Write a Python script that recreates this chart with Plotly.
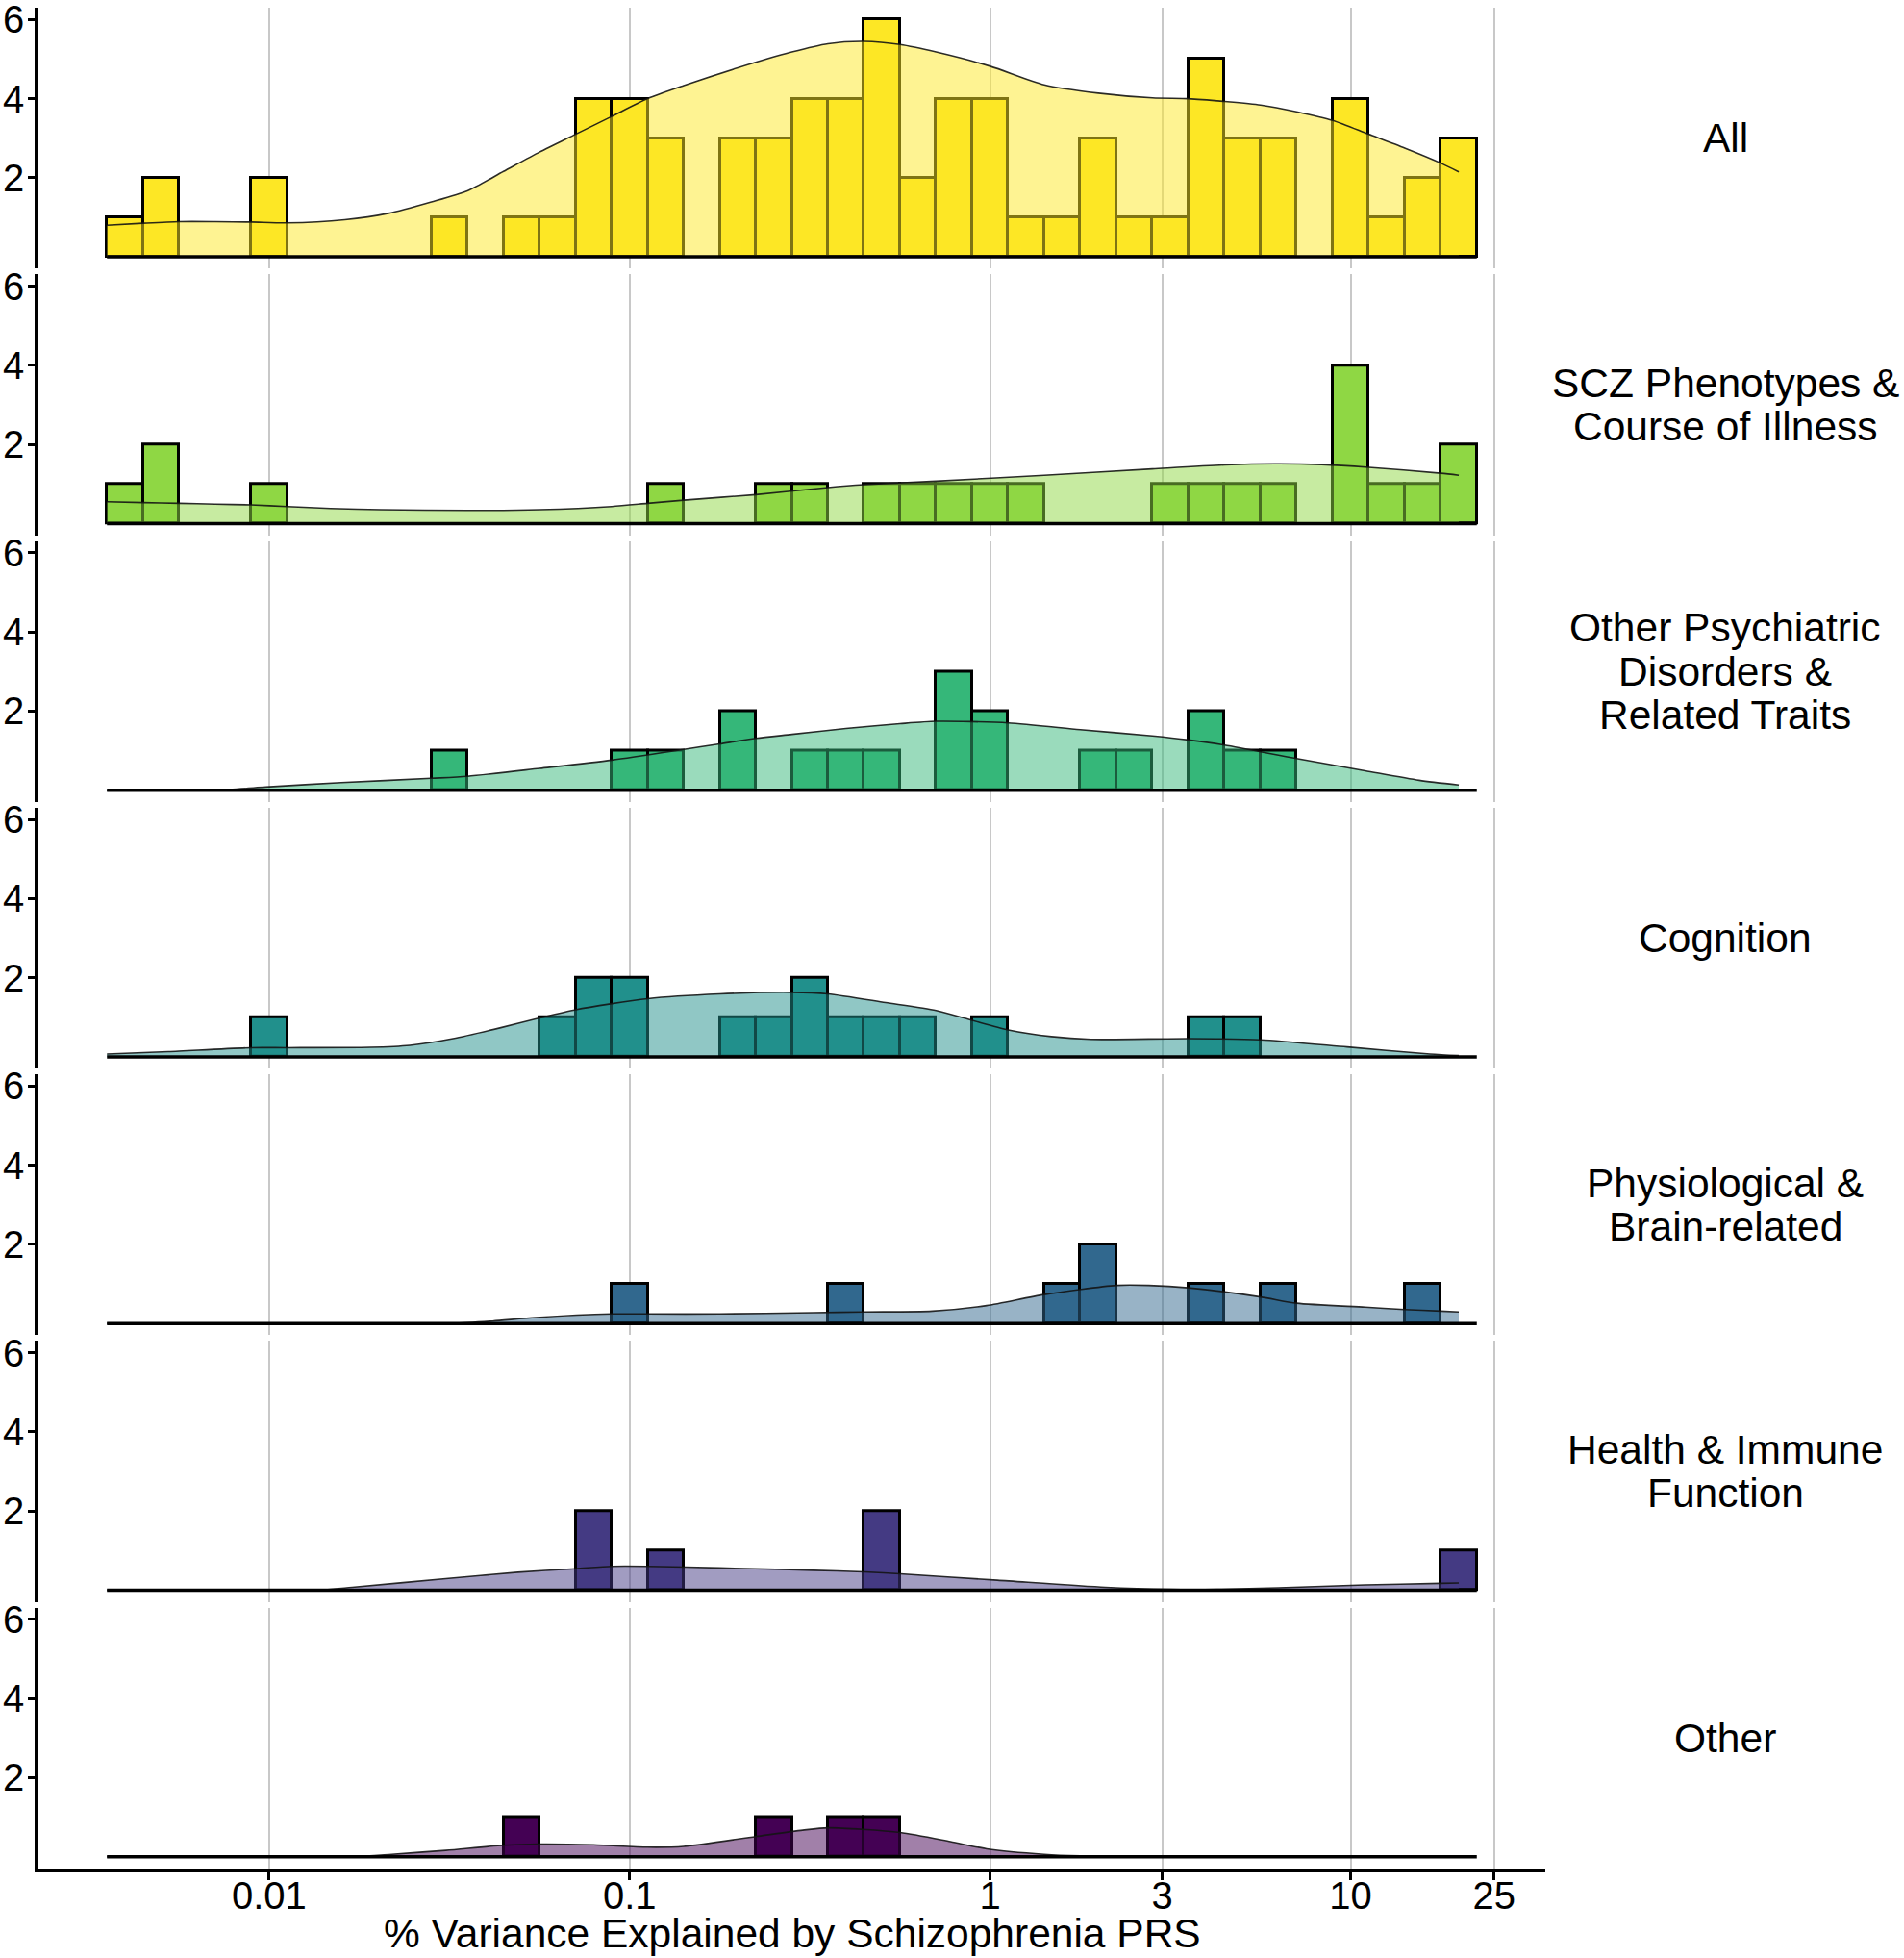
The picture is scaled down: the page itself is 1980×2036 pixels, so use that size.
import numpy as np
import plotly.graph_objects as go
from plotly.subplots import make_subplots

# ---------------- data ----------------
# histogram bins: centres in log10(% variance explained), bin width 0.1 (log10 units)
bin_centers = [-2.4, -2.3, -2.2, -2.1, -2.0, -1.9, -1.8, -1.7, -1.6, -1.5,
               -1.4, -1.3, -1.2, -1.1, -1.0, -0.9, -0.8, -0.7, -0.6, -0.5,
               -0.4, -0.3, -0.2, -0.1, 0.0, 0.1, 0.2, 0.3, 0.4, 0.5,
               0.6, 0.7, 0.8, 0.9, 1.0, 1.1, 1.2, 1.3]
bin_width = 0.1

categories = ["All", "SCZ Phenotypes &<br>Course of Illness",
              "Other Psychiatric<br>Disorders &<br>Related Traits", "Cognition",
              "Physiological &<br>Brain-related", "Health & Immune<br>Function", "Other"]

counts_all    = [1, 2, 0, 0, 2, 0, 0, 0, 0, 1, 0, 1, 1, 4, 4, 3, 0, 3, 3, 4, 4, 6, 2, 4, 4, 1, 1, 3, 1, 1, 5, 3, 3, 0, 4, 1, 2, 3]
counts_scz    = [1, 2, 0, 0, 1, 0, 0, 0, 0, 0, 0, 0, 0, 0, 0, 1, 0, 0, 1, 1, 0, 1, 1, 1, 1, 1, 0, 0, 0, 1, 1, 1, 1, 0, 4, 1, 1, 2]
counts_psych  = [0, 0, 0, 0, 0, 0, 0, 0, 0, 1, 0, 0, 0, 0, 1, 1, 0, 2, 0, 1, 1, 1, 0, 3, 2, 0, 0, 1, 1, 0, 2, 1, 1, 0, 0, 0, 0, 0]
counts_cog    = [0, 0, 0, 0, 1, 0, 0, 0, 0, 0, 0, 0, 1, 2, 2, 0, 0, 1, 1, 2, 1, 1, 1, 0, 1, 0, 0, 0, 0, 0, 1, 1, 0, 0, 0, 0, 0, 0]
counts_phys   = [0, 0, 0, 0, 0, 0, 0, 0, 0, 0, 0, 0, 0, 0, 1, 0, 0, 0, 0, 0, 1, 0, 0, 0, 0, 0, 1, 2, 0, 0, 1, 0, 1, 0, 0, 0, 1, 0]
counts_health = [0, 0, 0, 0, 0, 0, 0, 0, 0, 0, 0, 0, 0, 2, 0, 1, 0, 0, 0, 0, 0, 2, 0, 0, 0, 0, 0, 0, 0, 0, 0, 0, 0, 0, 0, 0, 0, 1]
counts_other  = [0, 0, 0, 0, 0, 0, 0, 0, 0, 0, 0, 1, 0, 0, 0, 0, 0, 0, 1, 0, 1, 1, 0, 0, 0, 0, 0, 0, 0, 0, 0, 0, 0, 0, 0, 0, 0, 0]

# density curves (count scale); x in log10 units
dens_all_x = [-2.45, -2.35, -2.25, -2.15, -2.05, -1.95, -1.79, -1.67, -1.55, -1.45, -1.35, -1.25, -1.15, -1.05,
              -0.95, -0.85, -0.70, -0.55, -0.45, -0.35, -0.25, -0.15, 0.0, 0.15, 0.30, 0.45, 0.55, 0.65, 0.75,
              0.85, 0.95, 1.05, 1.15, 1.25, 1.30]
dens_all_y = [0.80, 0.85, 0.89, 0.89, 0.88, 0.86, 0.94, 1.10, 1.39, 1.67, 2.16, 2.65, 3.10, 3.55,
              4.00, 4.33, 4.78, 5.18, 5.39, 5.45, 5.37, 5.18, 4.82, 4.35, 4.14, 4.02, 4.00, 3.93, 3.84,
              3.67, 3.45, 3.10, 2.75, 2.37, 2.15]

dens_scz_x = [-2.45, -2.35, -2.25, -2.15, -2.05, -1.95, -1.83, -1.69, -1.45, -1.25, -1.05, -0.95, -0.85, -0.65,
              -0.45, -0.35, -0.15, 0.15, 0.45, 0.65, 0.79, 0.92, 1.05, 1.25, 1.30]
dens_scz_y = [0.55, 0.53, 0.51, 0.49, 0.47, 0.43, 0.38, 0.35, 0.33, 0.35, 0.43, 0.51, 0.59, 0.73,
              0.91, 0.98, 1.07, 1.22, 1.38, 1.48, 1.51, 1.49, 1.42, 1.27, 1.22]

dens_psych_x = [-2.45, -2.11, -2.01, -1.80, -1.55, -1.45, -1.25, -1.05, -0.85, -0.75, -0.65, -0.55, -0.40,
                -0.25, -0.15, 0.05, 0.25, 0.45, 0.55, 0.65, 0.85, 1.04, 1.19, 1.30]
dens_psych_y = [0.0, 0.02, 0.08, 0.19, 0.30, 0.35, 0.55, 0.76, 1.03, 1.17, 1.31, 1.41, 1.56,
                1.68, 1.74, 1.70, 1.53, 1.37, 1.27, 1.14, 0.80, 0.49, 0.25, 0.13]

dens_cog_x = [-2.45, -2.28, -2.05, -1.95, -1.72, -1.61, -1.49, -1.36, -1.25, -1.15, -0.95, -0.75, -0.55,
              -0.45, -0.29, -0.15, -0.05, 0.05, 0.17, 0.28, 0.55, 0.75, 0.99, 1.22, 1.30]
dens_cog_y = [0.07, 0.13, 0.23, 0.23, 0.24, 0.29, 0.46, 0.73, 0.98, 1.19, 1.47, 1.59, 1.63,
              1.59, 1.37, 1.17, 0.92, 0.68, 0.51, 0.44, 0.46, 0.43, 0.25, 0.07, 0.03]

dens_phys_x = [-2.45, -1.90, -1.49, -1.38, -1.26, -1.05, -0.95, -0.75, -0.49, -0.35, -0.16, -0.01, 0.15,
               0.35, 0.44, 0.55, 0.75, 0.85, 1.04, 1.15, 1.25, 1.30]
dens_phys_y = [0.0, 0.0, 0.0, 0.06, 0.15, 0.24, 0.24, 0.24, 0.27, 0.29, 0.31, 0.45, 0.73,
               0.96, 0.96, 0.90, 0.67, 0.51, 0.41, 0.35, 0.31, 0.29]

dens_health_x = [-2.45, -1.87, -1.77, -1.51, -1.31, -1.15, -1.05, -0.95, -0.75, -0.49, -0.35, -0.25,
                 0.02, 0.32, 0.50, 0.63, 0.80, 1.04, 1.25, 1.30]
dens_health_y = [0.0, 0.0, 0.07, 0.29, 0.45, 0.54, 0.60, 0.60, 0.56, 0.50, 0.46, 0.41,
                 0.25, 0.07, 0.02, 0.02, 0.06, 0.13, 0.17, 0.18]

dens_other_x = [-2.45, -1.77, -1.66, -1.51, -1.35, -1.25, -1.10, -0.95, -0.85, -0.65, -0.52, -0.45,
                -0.25, -0.11, -0.01, 0.15, 0.25, 0.40, 1.30]
dens_other_y = [0.0, 0.0, 0.06, 0.16, 0.29, 0.32, 0.30, 0.24, 0.26, 0.51, 0.67, 0.73,
                0.61, 0.38, 0.20, 0.06, 0.02, 0.0, 0.0]

colors = ["#FDE725", "#8FD744", "#35B779", "#21908C", "#31688E", "#443A83", "#440154"]

x_tick_values = [0.01, 0.1, 1, 3, 10, 25]
x_tick_labels = ["0.01", "0.1", "1", "3", "10", "25"]
y_tick_values = [2, 4, 6]

x_title = "% Variance Explained by Schizophrenia PRS"

# ---------------- figure ----------------
counts_list = [counts_all, counts_scz, counts_psych, counts_cog, counts_phys, counts_health, counts_other]
dens_list = [(dens_all_x, dens_all_y), (dens_scz_x, dens_scz_y), (dens_psych_x, dens_psych_y),
             (dens_cog_x, dens_cog_y), (dens_phys_x, dens_phys_y), (dens_health_x, dens_health_y),
             (dens_other_x, dens_other_y)]

FONT = "Liberation Sans, Arial, sans-serif"
W, H = 1980, 2036
ML, MR, MT, MB = 40, 373, 8, 93
plot_h = H - MT - MB

n = len(categories)
fig = make_subplots(rows=n, cols=1, shared_xaxes=True, vertical_spacing=5.8 / plot_h)


def rgba(hexc, a):
    hexc = hexc.lstrip("#")
    r, g, b = int(hexc[0:2], 16), int(hexc[2:4], 16), int(hexc[4:6], 16)
    return f"rgba({r},{g},{b},{a})"


x_lo = bin_centers[0] - bin_width / 2
x_hi = bin_centers[-1] + bin_width / 2
span = x_hi - x_lo
x_range = [x_lo - 0.05 * span, x_hi + 0.05 * span]

for k in range(n):
    row = k + 1
    dx, dy = dens_list[k]
    fig.add_trace(go.Scatter(x=dx, y=dy, mode="lines",
                             line=dict(color="rgba(20,20,20,0.9)", width=1.6, shape="spline", smoothing=0.7),
                             fill="tozeroy", fillcolor=rgba(colors[k], 0.5),
                             showlegend=False, hoverinfo="skip"), row=row, col=1)
    bx = [c for c, v in zip(bin_centers, counts_list[k]) if v > 0]
    by = [v for v in counts_list[k] if v > 0]
    fig.add_trace(go.Bar(x=bx, y=by, width=bin_width,
                         marker=dict(color=colors[k], line=dict(color="black", width=3)),
                         showlegend=False), row=row, col=1)
    # histogram baseline (empty bins)
    fig.add_trace(go.Scatter(x=[x_lo, x_hi], y=[0, 0], mode="lines",
                             line=dict(color="black", width=3.5),
                             showlegend=False, hoverinfo="skip"), row=row, col=1)

    last = (row == n)
    fig.update_xaxes(row=row, col=1, type="linear", range=x_range, automargin=False,
                     tickvals=list(np.log10(x_tick_values)), ticktext=x_tick_labels,
                     showgrid=True, gridcolor="#C8C8C8", gridwidth=1.5, zeroline=False,
                     showline=last, linecolor="black", linewidth=3.5,
                     ticks="outside" if last else "", ticklen=8, tickwidth=3, tickcolor="black",
                     ticklabelstandoff=-18, ticklabeloverflow="allow",
                     showticklabels=last, tickfont=dict(family=FONT, size=40, color="black"))
    fig.update_yaxes(row=row, col=1, range=[-0.3, 6.3], tickvals=y_tick_values, automargin=False,
                     showgrid=False, zeroline=False, showline=True, linecolor="black", linewidth=3.5,
                     ticks="outside", ticklen=7, tickwidth=3, tickcolor="black",
                     ticklabelstandoff=-4, ticklabeloverflow="allow",
                     tickfont=dict(family=FONT, size=40, color="black"))

    # strip label on the right
    lines = categories[k].split("<br>")
    nl = len(lines)
    yref = "y domain" if row == 1 else f"y{row} domain"
    for j, t in enumerate(lines):
        fig.add_annotation(xref="paper", x=(1794 - ML) / (W - ML - MR), yref=yref, y=0.5,
                           text=t, showarrow=False, xanchor="center", yanchor="middle",
                           yshift=((nl - 1) / 2 - j) * 45.5,
                           font=dict(family=FONT, size=42.5, color="black"))

fig.add_annotation(xref="paper", x=0.5, yref="paper", y=0, yanchor="middle", xanchor="center",
                   yshift=-67, text=x_title, showarrow=False,
                   font=dict(family=FONT, size=42.5, color="black"))

fig.update_layout(width=W, height=H, margin=dict(l=ML, r=MR, t=MT, b=MB, autoexpand=False),
                  plot_bgcolor="white", paper_bgcolor="white", bargap=0, showlegend=False,
                  font=dict(family=FONT, color="black"))

fig.write_html("out.html", config={"displayModeBar": False},
               post_script="document.body.style.margin='0px';")
